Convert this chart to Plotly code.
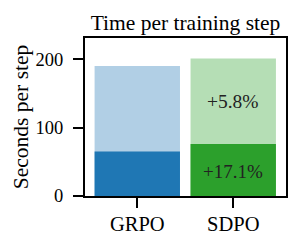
import plotly.graph_objects as go

methods = ["GRPO", "SDPO"]
total_time = [190.0, 201.0]
component_time = [65.0, 76.1]
total_labels = ["", "+5.8%"]
component_labels = ["", "+17.1%"]

light_colors = ["#b1cfe5", "#b5deb5"]
dark_colors = ["#1f77b4", "#2ca02c"]

FONT = "Liberation Serif, Times New Roman, serif"

fig = go.Figure()
fig.add_trace(go.Bar(
    x=methods, y=total_time, width=0.89,
    marker=dict(color=light_colors, line=dict(width=0)),
    showlegend=False, hoverinfo="skip",
))
fig.add_trace(go.Bar(
    x=methods, y=component_time, width=0.89,
    marker=dict(color=dark_colors, line=dict(width=0)),
    showlegend=False, hoverinfo="skip",
))

for i, m in enumerate(methods):
    if total_labels[i]:
        fig.add_annotation(x=m, y=(component_time[i] + total_time[i]) / 2,
                           text=total_labels[i], showarrow=False,
                           font=dict(family=FONT, size=19.5, color="#222222"))
    if component_labels[i]:
        fig.add_annotation(x=m, y=component_time[i] / 2 - 2,
                           text=component_labels[i], showarrow=False,
                           font=dict(family=FONT, size=19, color="#222222"))

fig.update_layout(
    width=298, height=244,
    margin=dict(l=84.5, r=12.3, t=38.3, b=48, autoexpand=False),
    barmode="overlay",
    plot_bgcolor="white", paper_bgcolor="white",
    font=dict(family=FONT, size=21, color="black"),
    title=dict(text="Time per training step", x=0.5, xref="paper",
               xanchor="center", y=1, yref="paper", yanchor="bottom",
               pad=dict(b=8), automargin=False,
               font=dict(family=FONT, size=21.5, color="black")),
)
fig.update_xaxes(
    range=[-0.545, 1.55], showline=True, linecolor="black", linewidth=2.3,
    mirror=True, ticks="outside", ticklen=10, tickwidth=2.3, tickcolor="black",
    showgrid=False, automargin=False, ticklabelstandoff=-2,
    tickfont=dict(family=FONT, size=20.5, color="black"),
)
fig.update_yaxes(
    range=[0, 231], showline=True, linecolor="black", linewidth=2.3,
    mirror=True, ticks="outside", ticklen=10, tickwidth=2.3, tickcolor="black",
    showgrid=False, zeroline=False, tickvals=[0, 100, 200], automargin=False,
    ticklabelstandoff=6,
    tickfont=dict(family=FONT, size=18.5, color="black"),
    title=dict(text="Seconds per step", standoff=1,
               font=dict(family=FONT, size=21.5, color="black")),
)

fig.write_html("out.html", config={"displayModeBar": False},
               post_script="document.body.style.margin='0';document.body.style.padding='0';")
